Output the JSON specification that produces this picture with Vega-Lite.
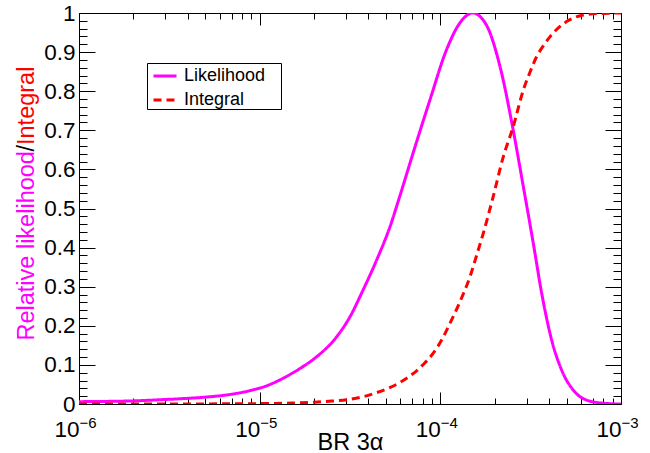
{
  "$schema": "https://vega.github.io/schema/vega-lite/v6.json",
  "width": 542,
  "height": 391,
  "autosize": {"type": "none"},
  "padding": {"left": 79, "top": 13, "right": 29, "bottom": 49},
  "background": "white",
  "data": {
    "values": [
      {"br": 1e-6, "value": 0.006, "series": "Likelihood"},
      {"br": 2e-6, "value": 0.008, "series": "Likelihood"},
      {"br": 3e-6, "value": 0.0115, "series": "Likelihood"},
      {"br": 4e-6, "value": 0.0145, "series": "Likelihood"},
      {"br": 5e-6, "value": 0.0175, "series": "Likelihood"},
      {"br": 7e-6, "value": 0.025, "series": "Likelihood"},
      {"br": 8.8e-6, "value": 0.034, "series": "Likelihood"},
      {"br": 1.1e-5, "value": 0.047, "series": "Likelihood"},
      {"br": 1.35e-5, "value": 0.066, "series": "Likelihood"},
      {"br": 1.7e-5, "value": 0.093, "series": "Likelihood"},
      {"br": 2.07e-5, "value": 0.121, "series": "Likelihood"},
      {"br": 2.67e-5, "value": 0.172, "series": "Likelihood"},
      {"br": 3.16e-5, "value": 0.223, "series": "Likelihood"},
      {"br": 3.74e-5, "value": 0.292, "series": "Likelihood"},
      {"br": 4.44e-5, "value": 0.368, "series": "Likelihood"},
      {"br": 5.26e-5, "value": 0.453, "series": "Likelihood"},
      {"br": 5.97e-5, "value": 0.532, "series": "Likelihood"},
      {"br": 7.08e-5, "value": 0.643, "series": "Likelihood"},
      {"br": 8.75e-5, "value": 0.777, "series": "Likelihood"},
      {"br": 1.08e-4, "value": 0.905, "series": "Likelihood"},
      {"br": 1.28e-4, "value": 0.974, "series": "Likelihood"},
      {"br": 1.51e-4, "value": 1.0, "series": "Likelihood"},
      {"br": 1.8e-4, "value": 0.969, "series": "Likelihood"},
      {"br": 2.14e-4, "value": 0.863, "series": "Likelihood"},
      {"br": 2.53e-4, "value": 0.701, "series": "Likelihood"},
      {"br": 2.88e-4, "value": 0.556, "series": "Likelihood"},
      {"br": 3.27e-4, "value": 0.411, "series": "Likelihood"},
      {"br": 3.64e-4, "value": 0.283, "series": "Likelihood"},
      {"br": 4.13e-4, "value": 0.164, "series": "Likelihood"},
      {"br": 4.69e-4, "value": 0.087, "series": "Likelihood"},
      {"br": 5.43e-4, "value": 0.036, "series": "Likelihood"},
      {"br": 6.45e-4, "value": 0.01, "series": "Likelihood"},
      {"br": 8e-4, "value": 0.002, "series": "Likelihood"},
      {"br": 1e-3, "value": 0.0, "series": "Likelihood"},
      {"br": 1e-6, "value": 0.00002, "series": "Integral"},
      {"br": 5e-6, "value": 0.0003, "series": "Integral"},
      {"br": 1e-5, "value": 0.001, "series": "Integral"},
      {"br": 1.5e-5, "value": 0.0025, "series": "Integral"},
      {"br": 2e-5, "value": 0.0045, "series": "Integral"},
      {"br": 2.5e-5, "value": 0.0075, "series": "Integral"},
      {"br": 3.03e-5, "value": 0.011, "series": "Integral"},
      {"br": 3.7e-5, "value": 0.018, "series": "Integral"},
      {"br": 4.44e-5, "value": 0.029, "series": "Integral"},
      {"br": 5.2e-5, "value": 0.041, "series": "Integral"},
      {"br": 5.97e-5, "value": 0.055, "series": "Integral"},
      {"br": 6.7e-5, "value": 0.07, "series": "Integral"},
      {"br": 7.39e-5, "value": 0.085, "series": "Integral"},
      {"br": 8.2e-5, "value": 0.105, "series": "Integral"},
      {"br": 9.14e-5, "value": 0.13, "series": "Integral"},
      {"br": 1.04e-4, "value": 0.172, "series": "Integral"},
      {"br": 1.13e-4, "value": 0.206, "series": "Integral"},
      {"br": 1.28e-4, "value": 0.26, "series": "Integral"},
      {"br": 1.46e-4, "value": 0.326, "series": "Integral"},
      {"br": 1.6e-4, "value": 0.385, "series": "Integral"},
      {"br": 1.73e-4, "value": 0.437, "series": "Integral"},
      {"br": 1.96e-4, "value": 0.53, "series": "Integral"},
      {"br": 2.23e-4, "value": 0.632, "series": "Integral"},
      {"br": 2.53e-4, "value": 0.709, "series": "Integral"},
      {"br": 2.88e-4, "value": 0.803, "series": "Integral"},
      {"br": 3.13e-4, "value": 0.848, "series": "Integral"},
      {"br": 3.41e-4, "value": 0.888, "series": "Integral"},
      {"br": 3.7e-4, "value": 0.915, "series": "Integral"},
      {"br": 4.04e-4, "value": 0.939, "series": "Integral"},
      {"br": 4.5e-4, "value": 0.962, "series": "Integral"},
      {"br": 5e-4, "value": 0.978, "series": "Integral"},
      {"br": 5.5e-4, "value": 0.988, "series": "Integral"},
      {"br": 6.18e-4, "value": 0.995, "series": "Integral"},
      {"br": 7e-4, "value": 0.998, "series": "Integral"},
      {"br": 8e-4, "value": 0.999, "series": "Integral"},
      {"br": 1e-3, "value": 1.0, "series": "Integral"}
    ]
  },
  "resolve": {"axis": {"x": "independent", "y": "independent"}},
  "layer": [
    {
      "mark": {"type": "line", "strokeWidth": 3, "interpolate": "monotone", "clip": true},
      "encoding": {
        "x": {
          "field": "br", "type": "quantitative",
          "scale": {"type": "log", "domain": [1e-6, 1e-3], "nice": false},
          "axis": {
            "orient": "bottom", "values": [1e-6, 1e-5, 1e-4, 1e-3],
            "tickSize": -12, "labelPadding": 44, "labelExpr": "'10'",
            "labelAlign": "right", "labelDx": 1, "labelBaseline": "alphabetic",
            "labelFlush": false, "labelOverlap": false,
            "title": "BR 3α", "titleFontSize": 23.5, "titleY": 45, "titleBaseline": "alphabetic", "titleAnchor": "middle"
          }
        },
        "y": {
          "field": "value", "type": "quantitative",
          "scale": {"domain": [0, 1], "nice": false, "zero": false},
          "axis": {
            "orient": "left", "values": [0, 0.1, 0.2, 0.3, 0.4, 0.5, 0.6, 0.7, 0.8, 0.9, 1],
            "tickSize": -16, "labelPadding": 20, "format": ".1~f",
            "labelFlush": false, "labelOverlap": false, "labelBaseline": "middle", "labelAlign": "right",
            "title": "Relative likelihood", "titleColor": "#ff00ff", "titleFontSize": 23.5,
            "titleX": -46, "titleY": 327, "titleAngle": 270, "titleAlign": "left", "titleBaseline": "alphabetic"
          }
        },
        "color": {
          "field": "series", "type": "nominal",
          "scale": {"domain": ["Likelihood", "Integral"], "range": ["#ff00ff", "#ff0000"]},
          "legend": {
            "title": null, "orient": "none", "legendX": 68, "legendY": 50,
            "padding": 0, "symbolOffset": 5, "labelOffset": 6, "symbolSize": 529,
            "symbolStrokeWidth": 3, "symbolType": "stroke", "labelFontSize": 18,
            "labelFont": "Liberation Sans", "labelColor": "black",
            "strokeColor": "black", "fillColor": "white", "rowPadding": 2,
            "labelExpr": "datum.label + '\u00a0\u00a0\u00a0\u200b'"
          }
        },
        "strokeDash": {
          "field": "series", "type": "nominal",
          "scale": {"domain": ["Likelihood", "Integral"], "range": [[1, 0], [8, 5]]},
          "legend": {
            "title": null, "orient": "none", "legendX": 68, "legendY": 50,
            "padding": 0, "symbolOffset": 5, "labelOffset": 6, "symbolSize": 529,
            "symbolStrokeWidth": 3, "symbolType": "stroke", "labelFontSize": 18,
            "labelFont": "Liberation Sans", "labelColor": "black",
            "strokeColor": "black", "fillColor": "white", "rowPadding": 2,
            "labelExpr": "datum.label + '\u00a0\u00a0\u00a0\u200b'"
          }
        }
      }
    },
    {
      "mark": {"type": "line", "opacity": 0},
      "encoding": {
        "x": {
          "field": "br", "type": "quantitative",
          "scale": {"type": "log", "domain": [1e-6, 1e-3], "nice": false},
          "axis": {
            "orient": "bottom",
            "values": [2e-6, 3e-6, 4e-6, 5e-6, 6e-6, 7e-6, 8e-6, 9e-6, 2e-5, 3e-5, 4e-5, 5e-5, 6e-5, 7e-5, 8e-5, 9e-5, 2e-4, 3e-4, 4e-4, 5e-4, 6e-4, 7e-4, 8e-4, 9e-4],
            "tickSize": -6, "labels": false, "domain": false, "title": null
          }
        },
        "y": {
          "field": "value", "type": "quantitative",
          "scale": {"domain": [0, 1], "nice": false, "zero": false},
          "axis": {
            "orient": "left",
            "values": [0.02, 0.04, 0.06, 0.08, 0.12, 0.14, 0.16, 0.18, 0.22, 0.24, 0.26, 0.28, 0.32, 0.34, 0.36, 0.38, 0.42, 0.44, 0.46, 0.48, 0.52, 0.54, 0.56, 0.58, 0.62, 0.64, 0.66, 0.68, 0.72, 0.74, 0.76, 0.78, 0.82, 0.84, 0.86, 0.88, 0.92, 0.94, 0.96, 0.98],
            "tickSize": -8, "labels": false, "domain": false,
            "title": "Integral", "titleColor": "#ff0000", "titleFontSize": 23.5,
            "titleX": -46, "titleY": 131.5, "titleAngle": 270, "titleAlign": "left", "titleBaseline": "alphabetic"
          }
        }
      }
    },
    {
      "mark": {"type": "line", "opacity": 0},
      "encoding": {
        "x": {
          "field": "br", "type": "quantitative",
          "scale": {"type": "log", "domain": [1e-6, 1e-3], "nice": false},
          "axis": {
            "orient": "top", "values": [1e-6, 1e-5, 1e-4, 1e-3],
            "tickSize": -12, "labels": false, "domain": true, "title": null
          }
        },
        "y": {
          "field": "value", "type": "quantitative",
          "scale": {"domain": [0, 1], "nice": false, "zero": false},
          "axis": {
            "orient": "right", "values": [0, 0.1, 0.2, 0.3, 0.4, 0.5, 0.6, 0.7, 0.8, 0.9, 1],
            "tickSize": -16, "labels": false, "domain": true, "title": null
          }
        }
      }
    },
    {
      "mark": {"type": "line", "opacity": 0},
      "encoding": {
        "x": {
          "field": "br", "type": "quantitative",
          "scale": {"type": "log", "domain": [1e-6, 1e-3], "nice": false},
          "axis": {
            "orient": "top",
            "values": [2e-6, 3e-6, 4e-6, 5e-6, 6e-6, 7e-6, 8e-6, 9e-6, 2e-5, 3e-5, 4e-5, 5e-5, 6e-5, 7e-5, 8e-5, 9e-5, 2e-4, 3e-4, 4e-4, 5e-4, 6e-4, 7e-4, 8e-4, 9e-4],
            "tickSize": -6, "labels": false, "domain": false, "title": null
          }
        },
        "y": {
          "field": "value", "type": "quantitative",
          "scale": {"domain": [0, 1], "nice": false, "zero": false},
          "axis": {
            "orient": "right",
            "values": [0.02, 0.04, 0.06, 0.08, 0.12, 0.14, 0.16, 0.18, 0.22, 0.24, 0.26, 0.28, 0.32, 0.34, 0.36, 0.38, 0.42, 0.44, 0.46, 0.48, 0.52, 0.54, 0.56, 0.58, 0.62, 0.64, 0.66, 0.68, 0.72, 0.74, 0.76, 0.78, 0.82, 0.84, 0.86, 0.88, 0.92, 0.94, 0.96, 0.98],
            "tickSize": -8, "labels": false, "domain": false, "title": null
          }
        }
      }
    },
    {
      "mark": {"type": "line", "opacity": 0},
      "encoding": {
        "x": {
          "field": "br", "type": "quantitative",
          "scale": {"type": "log", "domain": [1e-6, 1e-3], "nice": false},
          "axis": {
            "orient": "bottom", "values": [1e-6, 1e-5, 1e-4, 1e-3],
            "ticks": false, "domain": false,
            "labelExpr": "datum.value < 5e-6 ? '−6' : datum.value < 5e-5 ? '−5' : datum.value < 5e-4 ? '−4' : '−3'",
            "labelFontSize": 15, "labelAlign": "left", "labelDx": 3, "labelPadding": 23,
            "labelBaseline": "alphabetic", "labelFlush": false, "labelOverlap": false, "title": null
          }
        },
        "y": {
          "field": "value", "type": "quantitative",
          "scale": {"domain": [0, 1], "nice": false, "zero": false},
          "axis": {
            "orient": "left", "ticks": false, "labels": false, "domain": false,
            "title": "/", "titleColor": "black", "titleFontSize": 23.5,
            "titleX": -46, "titleY": 138, "titleAngle": 270, "titleAlign": "left", "titleBaseline": "alphabetic"
          }
        }
      }
    }
  ],
  "config": {
    "view": {"stroke": null},
    "axis": {
      "grid": false, "domainColor": "black", "tickColor": "black", "domainWidth": 1, "tickWidth": 1,
      "labelColor": "black", "labelFont": "Liberation Sans", "titleFont": "Liberation Sans",
      "labelFontSize": 22.5, "titleFontSize": 22.5, "titleFontWeight": "normal"
    }
  }
}
